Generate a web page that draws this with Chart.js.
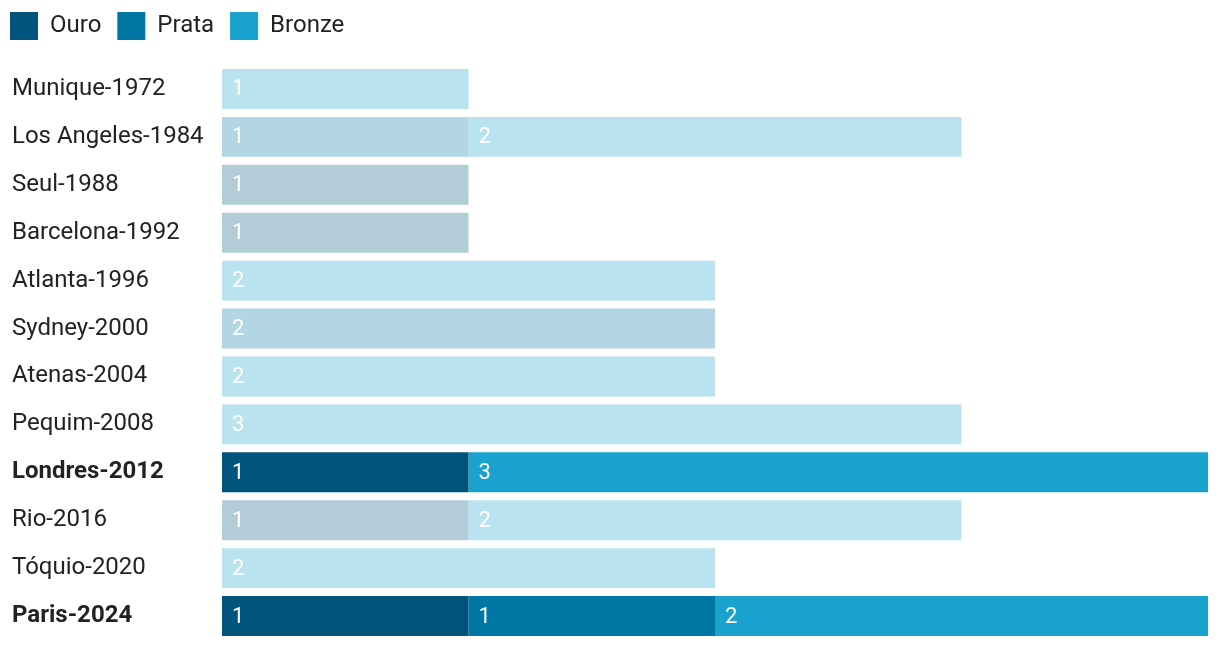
<!DOCTYPE html>
<html>
<head>
<meta charset="utf-8">
<script src="https://cdn.jsdelivr.net/npm/chart.js@4/dist/chart.umd.min.js"></script>
<style>
  html, body { margin: 0; padding: 0; background: #ffffff; }
  #wrap { width: 1220px; height: 648px; position: relative; }
</style>
</head>
<body>
<div id="wrap"><canvas id="c"></canvas></div>
<script>
// ---- Data ----
const categories = ['Munique-1972','Los Angeles-1984','Seul-1988','Barcelona-1992','Atlanta-1996','Sydney-2000','Atenas-2004','Pequim-2008','Londres-2012','Rio-2016','Tóquio-2020','Paris-2024'];
const ouro   = [null, null, 1, 1, null, null, null, null, 1, 1, null, 1];
const prata  = [null, 1, null, null, null, 2, null, null, null, null, null, 1];
const bronze = [1, 2, null, null, 2, null, 2, 3, 3, 2, 2, 2];
const highlighted = ['Londres-2012', 'Paris-2024'];
const seriesNames = ['Ouro', 'Prata', 'Bronze'];

// ---- Styles ----
const fullColors  = ['#00547c', '#0077a3', '#19a2ce'];
const fadedColors = ['#b2ccd8', '#b2d6e3', '#bae3f0'];
const FONT = 'Roboto, "Noto Sans", sans-serif';

function colorFor(i) {
  return (ctx) => {
    if (ctx.type === 'data') {
      return highlighted.includes(categories[ctx.dataIndex]) ? fullColors[i] : fadedColors[i];
    }
    return fullColors[i];
  };
}

const valueLabels = {
  id: 'valueLabels',
  afterDatasetsDraw(chart) {
    const ctx = chart.ctx;
    ctx.save();
    ctx.font = '22px ' + FONT;
    ctx.fillStyle = '#ffffff';
    ctx.textAlign = 'left';
    ctx.textBaseline = 'middle';
    chart.data.datasets.forEach((ds, di) => {
      const meta = chart.getDatasetMeta(di);
      meta.data.forEach((bar, i) => {
        const v = ds.data[i];
        if (v === null || v === 0) return;
        const left = Math.min(bar.x, bar.base);
        ctx.fillText(String(v), left + 10, bar.y + 1);
      });
    });
    ctx.restore();
  }
};

const legendShift = {
  id: 'legendShift',
  afterLayout(chart) {
    if (chart.legend) {
      chart.legend.left -= 18;
      chart.legend.top -= 15;
    }
  }
};

const datasets = [ouro, prata, bronze].map((d, i) => ({
  label: seriesNames[i],
  data: d,
  backgroundColor: colorFor(i),
  borderWidth: 0,
  barPercentage: 1,
  categoryPercentage: 40 / 48
}));

new Chart(document.getElementById('c'), {
  type: 'bar',
  data: { labels: categories, datasets },
  options: {
    indexAxis: 'y',
    responsive: true,
    maintainAspectRatio: false,
    animation: false,
    layout: { padding: { left: 12, right: 12, top: 11, bottom: 8 } },
    plugins: {
      tooltip: { enabled: false },
      legend: {
        position: 'top',
        align: 'start',
        labels: {
          boxWidth: 28,
          boxHeight: 28,
          padding: 16,
          color: '#222222',
          font: { family: FONT, size: 24 },
          generateLabels: (chart) => seriesNames.map((n, i) => ({
            text: n,
            fillStyle: fullColors[i],
            strokeStyle: fullColors[i],
            lineWidth: 0,
            hidden: false,
            datasetIndex: i,
            fontColor: '#222222'
          }))
        }
      }
    },
    scales: {
      x: {
        stacked: true,
        min: 0,
        max: 4,
        display: false
      },
      y: {
        stacked: true,
        grid: { display: false, drawTicks: false },
        border: { display: false },
        afterFit: (s) => { s.width = 210; s.paddingTop = 0; s.paddingBottom = 0; },
        ticks: {
          crossAlign: 'far',
          padding: 0,
          color: '#222222',
          font: (c) => ({
            family: FONT,
            size: 24,
            weight: (c.tick && highlighted.includes(c.tick.label)) ? 'bold' : 'normal'
          })
        }
      }
    }
  },
  plugins: [valueLabels, legendShift]
});
</script>
</body>
</html>
